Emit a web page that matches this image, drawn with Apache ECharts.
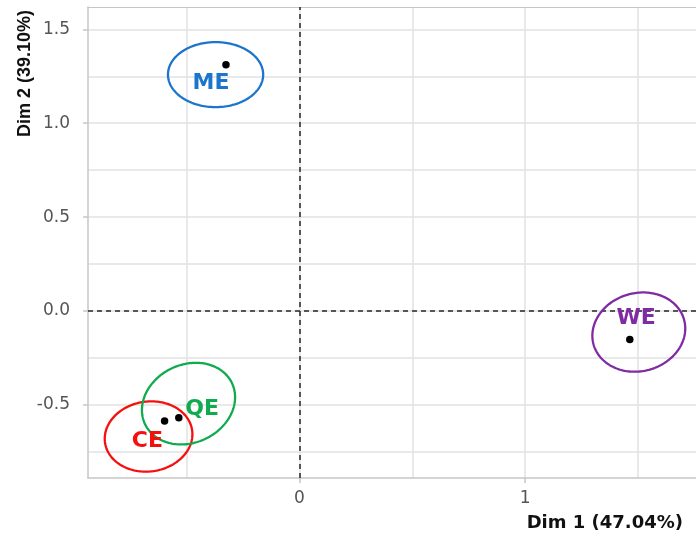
<!DOCTYPE html>
<html>
<head>
<meta charset="utf-8">
<script src="https://cdn.jsdelivr.net/npm/echarts@6/dist/echarts.min.js"></script>
<style>
html, body { margin: 0; padding: 0; background: #ffffff; }
#chart { width: 696px; height: 533px; }
</style>
</head>
<body>
<div id="chart"></div>
<script>
// Group centroids on the first two dimensions
const groups = ['ME', 'WE', 'CE', 'QE'];
const dim1 = [-0.326, 1.464, -0.598, -0.535];
const dim2 = [1.311, -0.151, -0.586, -0.568];

// Concentration ellipses: centre, semi-axes (x units, y units), tilt in degrees
const ellipseCx = [-0.372, 1.504, -0.669, -0.492];
const ellipseCy = [1.259, -0.112, -0.668, -0.493];
const ellipseRx = [0.211, 0.208, 0.195, 0.213];
const ellipseRy = [0.173, 0.208, 0.186, 0.208];
const ellipseTilt = [0, 15, 8, 25];

// Where each group name sits
const labelX = [-0.392, 1.492, -0.674, -0.432];
const labelY = [1.211, -0.040, -0.695, -0.522];

const groupColors = ['#1B75CC', '#7F2BA4', '#F50F0F', '#10AA4F'];

// Axis ticks and grid lines
const xTicks = [0, 1];
const yTicks = [-0.5, 0, 0.5, 1, 1.5];
const xGrid = [-0.5, 0, 0.5, 1, 1.5];
const yGrid = [-0.75, -0.5, -0.25, 0, 0.25, 0.5, 0.75, 1, 1.25, 1.5];

const X_MIN = -0.9375, X_MAX = 1.7575;
const Y_MIN = -0.889, Y_MAX = 1.619;

const axisGray = '#c6c6c6';
const tickFont = { fontFamily: 'DejaVu Sans', fontSize: 17, color: '#555555' };

const chart = echarts.init(document.getElementById('chart'), null, { renderer: 'canvas' });

const option = {
  animation: false,
  backgroundColor: '#ffffff',
  grid: { left: 88, right: 0, top: 7, bottom: 55, containLabel: false },
  xAxis: [
    {
      type: 'value',
      min: X_MIN,
      max: X_MAX,
      position: 'bottom',
      name: 'Dim 1 (47.04%)',
      nameLocation: 'end',
      nameGap: -13,
      nameTextStyle: {
        fontFamily: 'DejaVu Sans', fontWeight: 'bold', fontSize: 18, color: '#111111',
        align: 'right', verticalAlign: 'top', padding: [36, 0, 0, 0]
      },
      axisLine: { show: true, onZero: false, lineStyle: { color: axisGray, width: 1.5 } },
      axisTick: { show: true, customValues: xTicks, length: 5, lineStyle: { color: axisGray, width: 1.5 } },
      axisLabel: { show: true, customValues: xTicks, margin: 12, formatter: v => String(v), ...tickFont },
      splitLine: { show: false }
    },
    {
      type: 'value',
      min: X_MIN,
      max: X_MAX,
      position: 'top',
      axisLine: { show: true, onZero: false, lineStyle: { color: axisGray, width: 1.2 } },
      axisTick: { show: false },
      axisLabel: { show: false },
      splitLine: { show: false }
    }
  ],
  yAxis: {
    type: 'value',
    min: Y_MIN,
    max: Y_MAX,
    name: 'Dim 2 (39.10%)',
    nameLocation: 'end',
    nameRotate: 90,
    nameGap: -3,
    nameTextStyle: {
      fontFamily: 'Liberation Sans', fontWeight: 'bold', fontSize: 18, color: '#111111',
      align: 'right', verticalAlign: 'bottom', padding: [0, 0, 54, 0]
    },
    axisLine: { show: true, onZero: false, lineStyle: { color: axisGray, width: 1.5 } },
    axisTick: { show: true, customValues: yTicks, length: 5, lineStyle: { color: axisGray, width: 1.5 } },
    axisLabel: { show: true, customValues: yTicks, margin: 18, formatter: v => v.toFixed(1), ...tickFont },
    splitLine: { show: false }
  },
  series: [
    {
      // background grid
      type: 'scatter',
      data: [],
      silent: true,
      z: 0,
      markLine: {
        z: 0,
        silent: true,
        symbol: ['none', 'none'],
        label: { show: false },
        lineStyle: { color: '#e2e2e2', width: 1.5, type: 'solid' },
        data: [
          ...xGrid.map(v => ({ xAxis: v })),
          ...yGrid.map(v => ({ yAxis: v }))
        ]
      }
    },
    {
      // origin reference lines
      type: 'scatter',
      data: [],
      silent: true,
      z: 1,
      markLine: {
        z: 1,
        silent: true,
        symbol: ['none', 'none'],
        label: { show: false },
        lineStyle: { color: '#262626', width: 1.5, type: [5, 4] },
        data: [{ xAxis: 0 }, { yAxis: 0 }]
      }
    },
    {
      // group ellipses
      type: 'custom',
      z: 3,
      silent: true,
      data: groups.map((g, i) => [ellipseCx[i], ellipseCy[i], ellipseRx[i], ellipseRy[i], ellipseTilt[i]]),
      renderItem: function (params, api) {
        const i = params.dataIndex;
        const c = api.coord([api.value(0), api.value(1)]);
        const s = api.size([api.value(2), api.value(3)]);
        const phi = api.value(4) * Math.PI / 180;
        const pts = [];
        const n = 180;
        for (let k = 0; k < n; k++) {
          const t = k / n * 2 * Math.PI;
          const ex = s[0] * Math.cos(t);
          const ey = s[1] * Math.sin(t);
          pts.push([
            c[0] + ex * Math.cos(phi) - ey * Math.sin(phi),
            c[1] - (ex * Math.sin(phi) + ey * Math.cos(phi))
          ]);
        }
        return {
          type: 'polygon',
          shape: { points: pts },
          style: { fill: 'none', stroke: groupColors[i], lineWidth: 2.3 }
        };
      }
    },
    {
      // centroid points
      type: 'scatter',
      z: 4,
      symbol: 'circle',
      symbolSize: 7.5,
      itemStyle: { color: '#000000', opacity: 1 },
      data: groups.map((g, i) => [dim1[i], dim2[i]])
    },
    {
      // group names
      type: 'scatter',
      z: 5,
      symbol: 'circle',
      symbolSize: 0,
      itemStyle: { opacity: 1 },
      data: groups.map((g, i) => ({
        name: g,
        value: [labelX[i], labelY[i]],
        label: { color: groupColors[i] }
      })),
      label: {
        show: true,
        position: 'inside',
        formatter: p => p.name,
        fontFamily: 'DejaVu Sans',
        fontWeight: 'bold',
        fontSize: 22,
        opacity: 1
      }
    }
  ]
};

chart.setOption(option);
</script>
</body>
</html>
